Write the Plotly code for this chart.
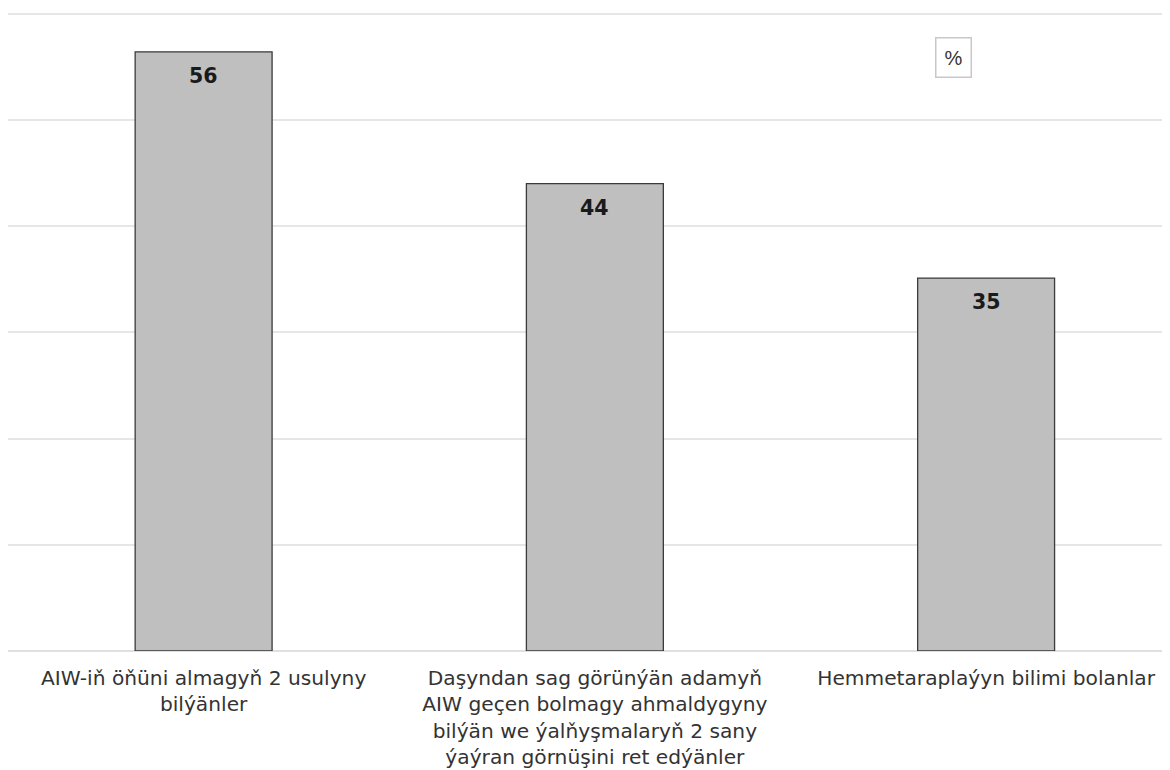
import plotly.graph_objects as go

categories = [
    "AIW-iň öňüni almagyň 2 usulyny<br>bilýänler",
    "Daşyndan sag görünýän adamyň<br>AIW geçen bolmagy ahmaldygyny<br>bilýän we ýalňyşmalaryň 2 sany<br>ýaýran görnüşini ret edýänler",
    "Hemmetaraplaýyn bilimi bolanlar",
]
values = [56.4, 44.0, 35.1]
value_labels = ["56", "44", "35"]
unit_label = "%"

fig = go.Figure()
fig.add_trace(go.Bar(
    x=categories,
    y=values,
    width=0.35,
    marker=dict(color="#bfbfbf", line=dict(color="#3a3a3a", width=1.3)),
    hoverinfo="skip",
))

for c, v, lab in zip(categories, values, value_labels):
    fig.add_annotation(
        x=c, y=v, text=f"<b>{lab}</b>", showarrow=False,
        yanchor="middle", yshift=-24,
        font=dict(family="DejaVu Sans", size=20.5, color="#1a1a1a"),
    )

fig.add_annotation(
    xref="paper", yref="paper", x=(953 - 8) / 1162, y=(651 - 59.5) / 637,
    text=unit_label, showarrow=False, xanchor="center", yanchor="middle",
    font=dict(family="Liberation Sans", size=20, color="#333333"),
    bordercolor="#c8c8c8", borderwidth=1.5, borderpad=8, bgcolor="white",
)

fig.update_layout(
    width=1162, height=762,
    margin=dict(l=0, r=0, t=4.4, b=119, autoexpand=False),
    plot_bgcolor="white", paper_bgcolor="white",
    showlegend=False,
    font=dict(family="DejaVu Sans", size=20.2, color="#333333"),
    xaxis=dict(
        range=[-0.5, 2.47], showgrid=False, ticks="", showline=False,
        zeroline=False, automargin=False, ticklabelstandoff=13,
        tickfont=dict(family="DejaVu Sans", size=20.2, color="#333333"),
    ),
    yaxis=dict(
        range=[0, 60.15], tickvals=[0, 10, 20, 30, 40, 50, 60],
        showgrid=True, gridcolor="#e6e6e6", gridwidth=1.5, automargin=False,
        showticklabels=False, zeroline=True, zerolinecolor="#e0e0e0", zerolinewidth=2,
        showline=False,
    ),
)

fig.write_html("out.html")
